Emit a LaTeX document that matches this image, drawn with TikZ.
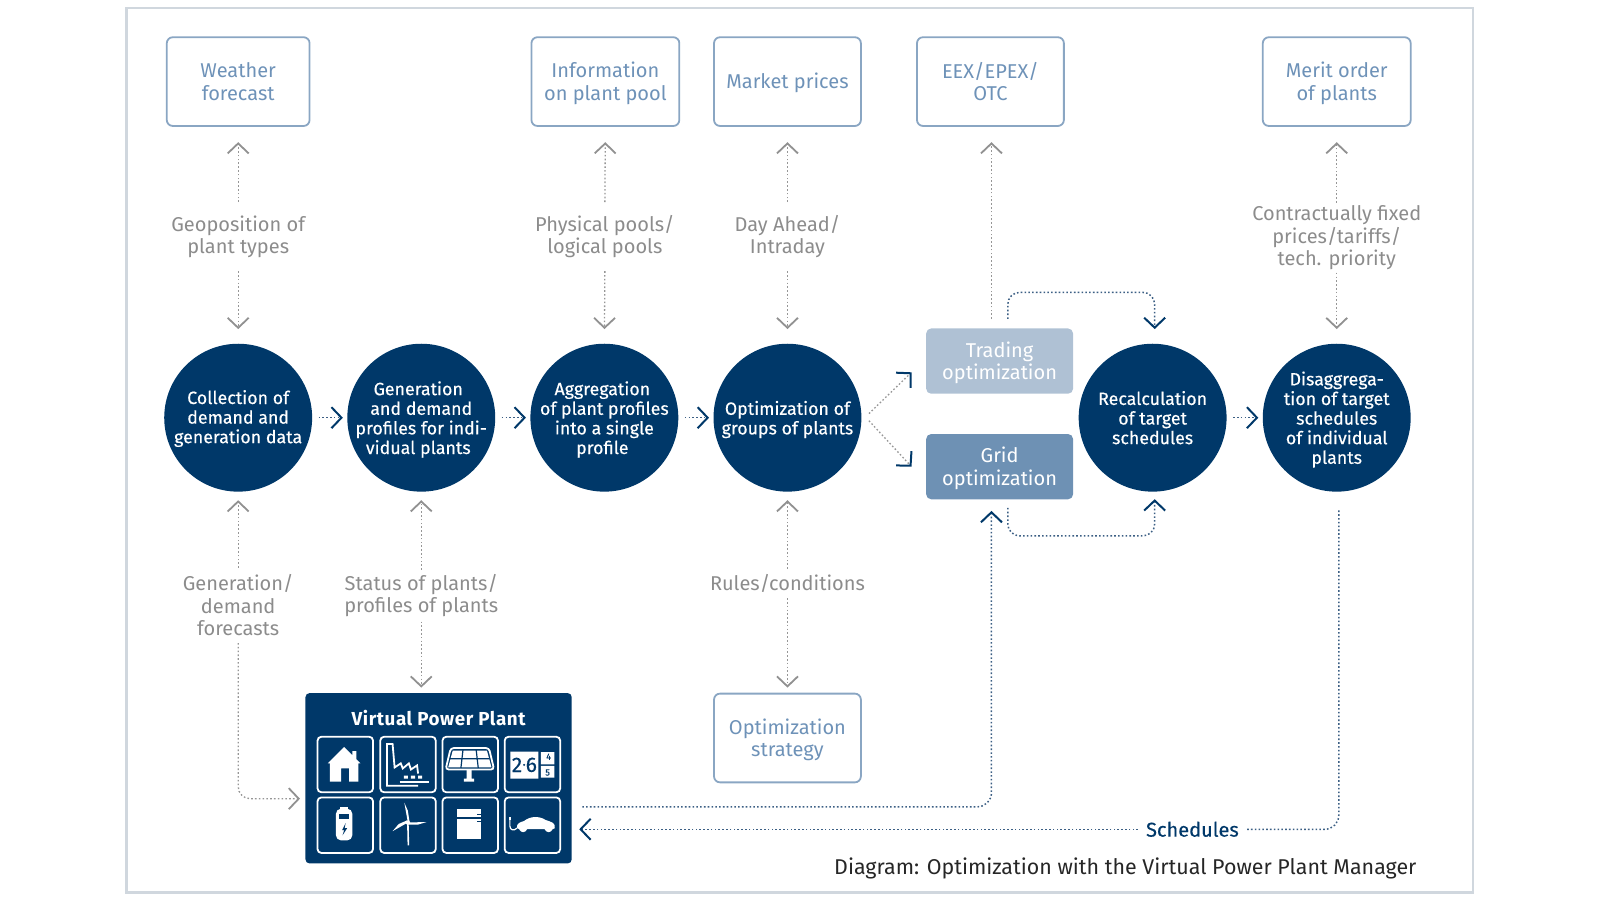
\documentclass[tikz,border=0pt]{standalone}
\usepackage{fontspec}
\setmainfont{Fira Sans}
\newfontfamily\medfont[FakeBold=0.35]{Fira Sans}
\newfontfamily\ttlfont[LetterSpace=3]{Fira Sans}
\usetikzlibrary{arrows.meta,calc}
\definecolor{navy}{RGB}{0,56,105}
\definecolor{framec}{RGB}{208,215,222}
\definecolor{boxline}{RGB}{138,166,195}
\definecolor{boxtext}{RGB}{110,146,184}
\definecolor{greytext}{RGB}{140,140,140}
\definecolor{dotgrey}{RGB}{150,150,150}
\definecolor{dotblue}{RGB}{60,95,132}
\definecolor{tipgrey}{RGB}{145,145,145}
\definecolor{tradec}{RGB}{175,193,212}
\definecolor{gridc}{RGB}{110,145,180}
\def\u{0.51pt}
\newcommand{\lsA}{\hspace*{3pt}}
\newcommand{\lsB}{\hspace*{2pt}}
\newcommand{\dr}[1]{\rule{0pt}{#1pt}}
\tikzset{
  x=\u, y=-\u,
  topbox/.style={draw=boxline,line width=0.9pt,rounded corners=3pt,text=boxtext,align=center,
    minimum width=144*\u,minimum height=87*\u,inner sep=0pt,font=\fontsize{10}{11.3}\selectfont},
  optbox/.style={rounded corners=2.5pt,text=white,align=center,minimum width=144*\u,inner sep=0pt,
    font=\fontsize{10}{11.3}\selectfont},
  disc/.style={circle,fill=navy,text=white,align=center,minimum size=145*\u,inner sep=-8pt,
    font=\medfont\fontsize{8.9}{9.8}\selectfont},
  lab/.style={text=greytext,align=center,inner sep=0pt,font=\fontsize{10}{11.3}\selectfont},
  tile/.style={draw=white,line width=0.9pt,rounded corners=2pt,minimum size=54.5*\u,inner sep=0pt},
  gline/.style={draw=dotgrey,line width=0.65pt,dash pattern=on 0.8pt off 1.1pt},
  bline/.style={draw=dotblue,line width=0.75pt,dash pattern=on 0.8pt off 1.1pt},
  gtip/.style={-{Straight Barb[length=5pt,width=10.5pt,line width=0.9pt,color=tipgrey]}},
  ntip/.style={-{Straight Barb[length=5pt,width=10.5pt,line width=1pt,color=navy]}},
  ictxt/.style={text=navy,inner sep=0pt,font=\medfont\fontsize{10.5}{11}\selectfont},
  icsmall/.style={text=navy,inner sep=0pt,font=\medfont\fontsize{4.5}{5}\selectfont},
}
\begin{document}
\begin{tikzpicture}
\useasboundingbox (0,0) rectangle (1568.6,882.35);
\draw[framec,line width=1.1pt] (124,8) rectangle (1444,875);
% top boxes
\node[topbox,minimum width=140*\u] (wf) at (233.5,80) {Weather\\forecast};
\node[topbox,minimum width=145*\u] (ip) at (593.5,80) {\dr{9.5}Information\\on plant pool};
\node[topbox] (mp) at (772,80) {\dr{9.3}Market prices};
\node[topbox] (eex) at (971,80) {EEX/EPEX/\\OTC};
\node[topbox,minimum width=145*\u] (mo) at (1310.5,80) {\dr{9.5}Merit order\\of plants};
\node[topbox] (os) at (772,723.5) {\dr{9.5}Optimization\\strategy};
% discs
\node[disc] (c1) at (233.5,409.5) {\dr{7.8}Collection of\\demand and\\generation data};
\node[disc] (c2) at (413,409.5) {\dr{8.8}Generation\lsA\\and demand\lsA\\profiles for indi-\lsA\\vidual plants\lsA};
\node[disc] (c3) at (592.5,409.5) {\dr{8.8}Aggregation\lsB\\of plant profiles\lsB\\into a single\lsB\\profile\lsB};
\node[disc] (c4) at (772,409.5) {\dr{8.8}Optimization of\\groups of plants};
\node[disc] (c5) at (1130,409.5) {Recalculation\\of target\\schedules};
\node[disc] (c6) at (1310.5,409.5) {\dr{8.8}Disaggrega-\\tion of target\\schedules\\of individual\\plants};
% optimisation boxes
\node[optbox,fill=tradec,minimum height=64*\u] (tr) at (980,354) {\dr{9.5}Trading\\optimization};
\node[optbox,fill=gridc,minimum height=64*\u] (gr) at (980,457.5) {\dr{9.5}Grid\\optimization};
% labels
\node[lab,minimum height=67*\u] (l1) at (233.5,232) {Geoposition of\\plant types};
\node[lab,minimum height=67*\u] (l2) at (593,232) {Physical pools/\\logical pools};
\node[lab,minimum height=67*\u] (l3) at (772,232) {Day Ahead/\\Intraday};
\node[lab,minimum height=68*\u] (l4) at (1310.5,233) {Contractually fixed\\prices/tariffs/\\tech. priority};
\node[lab,minimum height=73*\u] (l5) at (233.5,593.5) {Generation/\\demand\\forecasts};
\node[lab,minimum height=50*\u] (l6) at (413,584) {Status of plants/\\profiles of plants};
\node[lab,minimum height=28*\u] (l7) at (772,572) {Rules/conditions};
% VPP
\node[fill=navy,rounded corners=2pt,minimum width=261*\u,minimum height=167*\u,inner sep=0pt] (vpp) at (430,763) {};
\node[text=white,inner sep=0pt,font=\ttlfont\bfseries\fontsize{9.4}{11}\selectfont] (vt) at (430,704) {Virtual Power Plant};
\foreach \n/\x/\y in {t1/338.5/749.5,t2/400/749.5,t3/461/749.5,t4/522/749.5,t5/338.5/809,t6/400/809,t7/461/809,t8/522/809}{
  \node[tile] (\n) at (\x,\y) {};
}
% house
\begin{scope}[shift={(t1.north west)}]
\fill[white] (27,11) -- (35,19) -- (35,15) -- (39,15) -- (39,23) -- (43,27) -- (41,27) -- (41,45) -- (32,45) -- (32,32) -- (24,32) -- (24,45) -- (13,45) -- (13,27) -- (11,27) -- cycle;
\end{scope}
% factory
\begin{scope}[shift={(t2.north west)}]
\draw[white,line width=0.9pt] (38,49) -- (7.5,49) -- (7.5,8) -- (13,8) -- (15,31) -- (21,27) -- (23,32) -- (29,27) -- (31,33) -- (37,29) -- (38,37);
\fill[white] (24,39) rectangle (28,42) (31,39) rectangle (35,42) (38,39) rectangle (42,42);
\draw[white,line width=1pt] (20,45) -- (49,45);
\end{scope}
% solar
\begin{scope}[shift={(t3.north west)}]
\fill[white] (24.5,33) rectangle (29.5,44) (22,42) rectangle (32,45);
\draw[white,line width=0.9pt,rounded corners=1.5pt] (9,12) -- (46.5,12) -- (51.5,33) -- (4,33) -- cycle;
\fill[white] (11,14.5) -- (44.5,14.5) -- (49,31) -- (6.5,31) -- cycle;
\draw[navy,line width=0.6pt] (21,14) -- (19,31.5) (34,14) -- (36,31.5) (8,22.5) -- (47,22.5);
\end{scope}
% counter
\begin{scope}[shift={(t4.north west)}]
\fill[white] (6.5,15.5) rectangle (34,42) (36.5,16) rectangle (49.5,28) (36.5,29.5) rectangle (49.5,41);
\node[ictxt] at (13,28.5) {2};
\node[ictxt] at (27,28.5) {6};
\fill[navy] (20,28.5) circle (1.1);
\node[icsmall] at (44,20.5) {4};
\node[icsmall] at (43,36) {5};
\end{scope}
% battery
\begin{scope}[shift={(t5.north west)}]
\fill[white] (23,10) rectangle (31,14);
\fill[white,rounded corners=2.5pt] (19,12) rectangle (35,43);
\fill[navy] (22,17) rectangle (32,22);
\fill[navy] (28.5,26) -- (25,33) -- (27,33) -- (25.5,38) -- (30,31) -- (27.5,31) -- cycle;
\end{scope}
% wind turbine
\begin{scope}[shift={(t6.north west)}]
\draw[white,line width=0.8pt] (28,25.5) -- (28.5,48);
\fill[white] (28,25.5) circle (2.2);
\fill[white] (28,25.5) -- (24.5,6) -- (28,14) -- (29.5,24) -- cycle;
\fill[white] (28,25.5) -- (46.5,25) -- (38,27.5) -- (28,27.5) -- cycle;
\fill[white] (28,25.5) -- (13,34) -- (19,27) -- (27,23.5) -- cycle;
\end{scope}
% fridge
\begin{scope}[shift={(t7.north west)}]
\fill[white] (15.4,12) rectangle (39,42);
\draw[navy,line width=0.7pt] (15.4,21) -- (39,21);
\draw[navy,line width=0.8pt] (35,17.5) -- (39,17.5) (35,24.5) -- (39,24.5);
\end{scope}
% car
\begin{scope}[shift={(t8.north west)}]
\fill[white] (13,31) .. controls (12,26) and (17,25) .. (20,24) .. controls (26,19) and (35,19) .. (41,23) .. controls (47,25) and (51,26) .. (50,31) -- (48,32) .. controls (46,36) and (42,36) .. (40,32) -- (23,32) .. controls (21,36) and (17,36) .. (15,32) -- cycle;
\draw[white,line width=0.6pt] (6,21) -- (6,29) .. controls (6,33) and (10,34) .. (13,31);
\fill[white] (5,20) rectangle (7,23);
\end{scope}
% vertical connectors, upper row
\foreach \top/\lab/\low in {wf/l1/c1,ip/l2/c3,mp/l3/c4,mo/l4/c6}{
  \draw[gline,gtip,shorten >=15*\u] (\lab.north) -- (\top.south);
  \draw[gline,gtip,shorten >=14*\u] (\lab.south) -- (\low.north);
}
\draw[gline,gtip] ([shift={(-8,-9)}]tr.north) -- ([shift={(1,15)}]eex.south);
% vertical connectors, lower row
\draw[gline,gtip,shorten >=8*\u] (l5.north) -- (c1.south);
\draw[gline,gtip,rounded corners=6pt] (l5.south) |- ([shift={(-5,20)}]vpp.west);
\draw[gline,gtip,shorten >=8*\u] (l6.north) -- (c2.south);
\draw[gline,gtip] (l6.south) -- ([shift={(-17,-5)}]vpp.north);
\draw[gline,gtip,shorten >=8*\u] (l7.north) -- (c4.south);
\draw[gline,gtip,shorten >=5*\u] (l7.south) -- (os.north);
% process chain
\foreach \a/\b in {c1/c2,c2/c3,c3/c4,c5/c6}{
  \draw[bline,ntip,shorten <=6*\u,shorten >=4*\u] (\a.east) -- (\b.west);
}
\draw[gline,ntip] ([shift={(7,-4)}]c4.east) -- ([shift={(-14,11)}]tr.west);
\draw[gline,ntip] ([shift={(7,3)}]c4.east) -- ([shift={(-14,0)}]gr.west);
% recalculation loops
\draw[bline,ntip,rounded corners=6pt] ([shift={(8,-9)}]tr.north) |- ([shift={(2,-50)}]c5.north) -- ([shift={(2,-14)}]c5.north);
\draw[bline,ntip,rounded corners=6pt] ([shift={(8,8)}]gr.south) |- ([shift={(2,43)}]c5.south) -- ([shift={(2,7)}]c5.south);
% schedules
\draw[bline,ntip,rounded corners=7pt] ([shift={(10,28)}]vpp.east) -| ([shift={(-8,11)}]gr.south);
\node[inner sep=0pt,text=navy,minimum width=106*\u,font=\medfont\fontsize{10}{11}\selectfont] (sc) at (1169,813) {Schedules};
\draw[bline,rounded corners=7pt] ([shift={(2,18)}]c6.south) |- (sc.east);
\draw[bline,ntip] (sc.west) -- ([shift={(7,50)}]vpp.east);
% caption
\node[inner sep=0pt,anchor=east,text=black!85,font=\fontsize{10.7}{12}\selectfont] (cap) at (1389,851) {Diagram: Optimization with the Virtual Power Plant Manager};
\end{tikzpicture}
\end{document}
